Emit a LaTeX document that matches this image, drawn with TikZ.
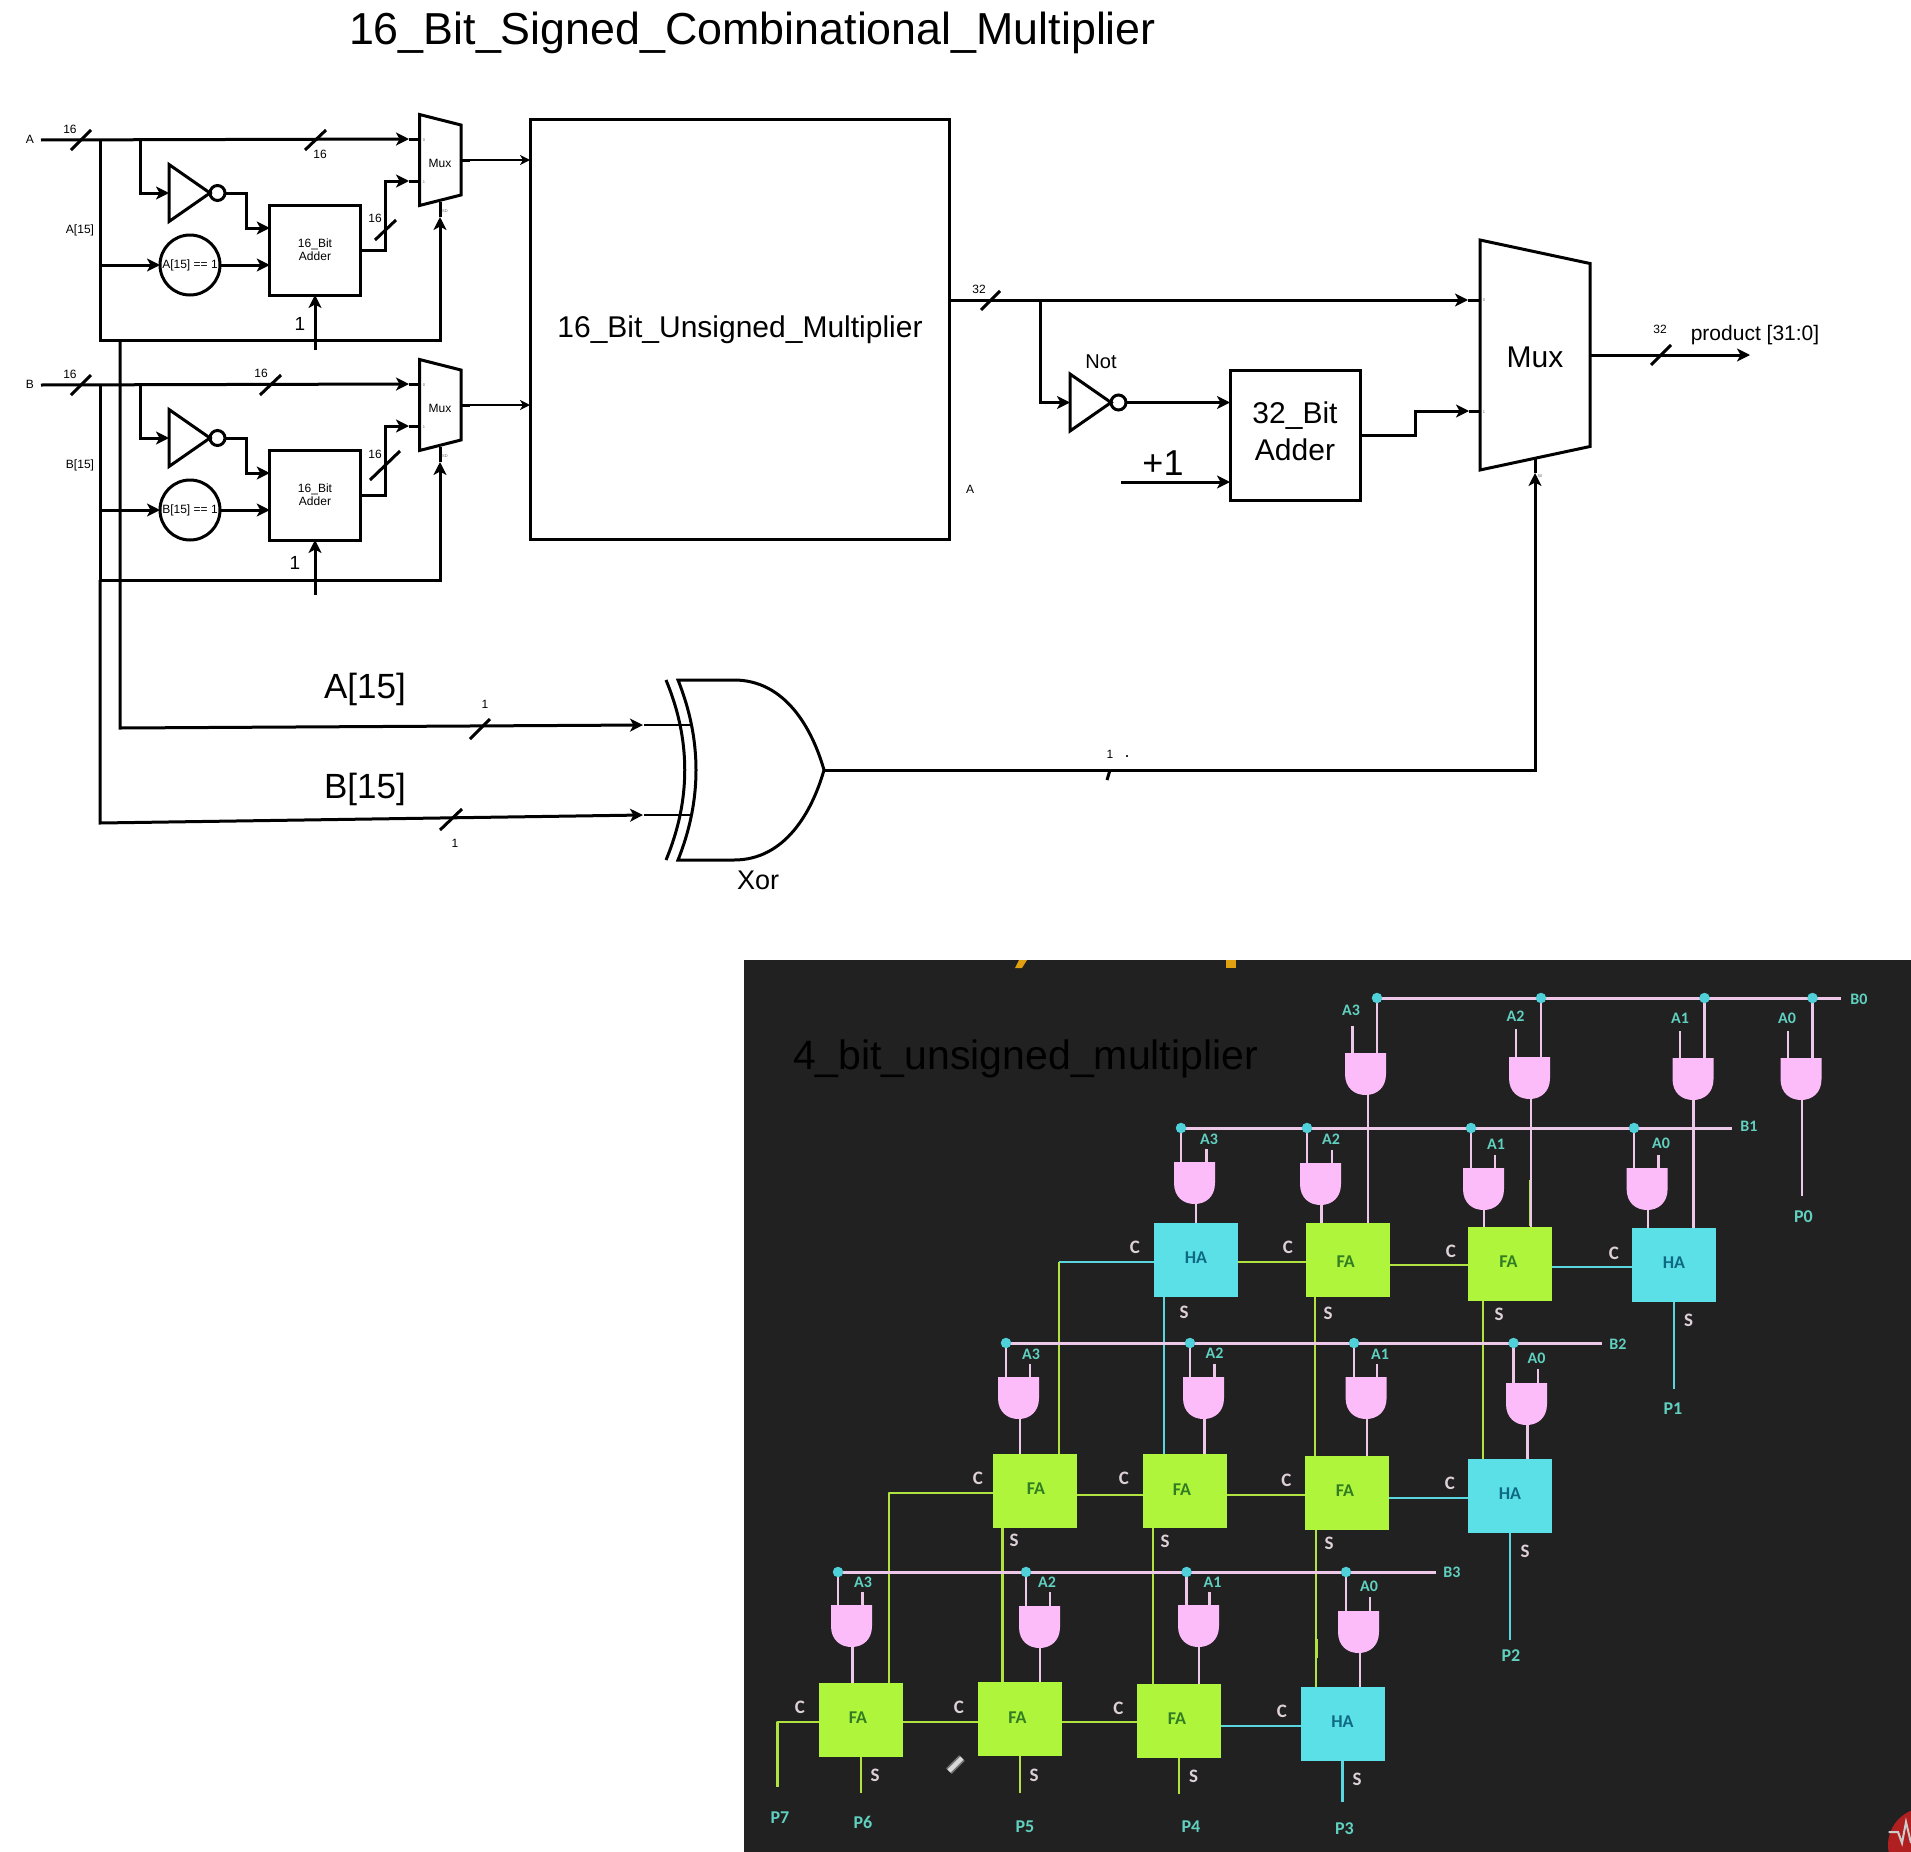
\documentclass[tikz,border=0pt]{standalone}
\usepackage{fontspec}
\setmainfont{Liberation Sans}
\newfontfamily\vidfont{Carlito}
\usetikzlibrary{arrows.meta,calc}
\definecolor{bgdark}{RGB}{33,33,33}
\definecolor{gatepink}{RGB}{252,188,250}
\definecolor{linepink}{RGB}{238,200,232}
\definecolor{fagreen}{RGB}{174,245,60}
\definecolor{hacyan}{RGB}{92,224,232}
\definecolor{fatext}{RGB}{50,125,35}
\definecolor{hatext}{RGB}{14,105,130}
\definecolor{wiregreen}{RGB}{176,226,64}
\definecolor{wirecyan}{RGB}{90,214,224}
\definecolor{dotcyan}{RGB}{80,208,216}
\definecolor{labteal}{RGB}{96,208,192}
\definecolor{labpale}{RGB}{222,208,216}
\definecolor{logored}{RGB}{176,32,32}
\definecolor{markorange}{RGB}{224,160,16}
\tikzset{
    wire/.style={line width=3pt},
    thinwire/.style={line width=2pt},
    arr/.style={-{Stealth[length=13pt,width=13pt,inset=3.5pt]}},
    smallarr/.style={-{Stealth[length=10pt,width=10pt,inset=3pt]}},
    txt/.style={inner sep=0pt,outer sep=0pt,font=\fontsize{#1}{#1}\selectfont},
    tiny port/.style={inner sep=0pt,font=\fontsize{4}{4}\selectfont,text=black!60},
    ghost/.style={inner sep=0pt,outer sep=0pt,minimum size=0pt},
    boxed/.style={draw,line width=3pt,inner sep=0pt,outer sep=0pt,align=center},
    fabox/.style={fill=fagreen,inner sep=0pt,outer sep=0pt,minimum width=84pt,minimum height=74pt},
    habox/.style={fill=hacyan,inner sep=0pt,outer sep=0pt,minimum width=84pt,minimum height=74pt},
    celllab/.style={inner sep=0pt,font=\vidfont\bfseries\fontsize{18}{18}\selectfont},
    gwire/.style={line width=2.6pt,wiregreen},
    cwire/.style={line width=2.6pt,wirecyan},
    pwire/.style={line width=2.6pt,linepink},
    vlab/.style={inner sep=0pt,text=labteal,font=\vidfont\bfseries\fontsize{16}{16}\selectfont},
    plab/.style={inner sep=0pt,text=labteal,font=\vidfont\bfseries\fontsize{18}{18}\selectfont},
    clab/.style={inner sep=0pt,text=labpale,font=\vidfont\bfseries\fontsize{19}{19}\selectfont}
}
\begin{document}
\begin{tikzpicture}[x=1pt,y=-1pt]
    \useasboundingbox (0,0) rectangle (1911,1852);

    % Titles
    \node[txt=44.8] (title) at (752.5,32.5) {16\_Bit\_Signed\_Combinational\_Multiplier};

    % Input rows
    \foreach \n/\dy/\sel in {A/0/340,B/245/580} {
        \node[txt=12] (name\n) at (30,139+\dy) {\n};
        \coordinate (in\n) at (41,140+\dy);
        \coordinate (j\n) at (100,140+\dy);
        \coordinate (k\n) at (140,140+\dy);
        \coordinate (corner\n) at (100,\sel);
        \coordinate (tap\n) at (100,265+\dy);
        \coordinate (one\n) at (315,350+\dy);
        \node[boxed,minimum width=90.5pt,minimum height=90pt,font=\fontsize{12}{14}\selectfont] (add\n) at (315,250+\dy) {16\_Bit\\[-1pt]Adder};
        \node[boxed,circle,minimum size=60pt,font=\fontsize{12}{14}\selectfont] (eq\n) at (190,265+\dy) {\n[15] == 1};
        \coordinate (tipa\n) at (409,139+\dy);
        \coordinate (tipb\n) at (409,181+\dy);
        \coordinate (tips\n) at (440,217+\dy);
        \coordinate (porta\n) at (419.5,139+\dy);
        \coordinate (portb\n) at (419.5,181+\dy);
        \coordinate (ports\n) at (440,202+\dy);
        \coordinate (outs\n) at (470,160+\dy);
    }

    % Muxes and inverters
    \foreach \n/\x/\y/\w/\h/\d in {muxA/440.25/160/41.5/91/10.5,muxB/440.25/405/41.5/91/10.5,muxP/1535/355/110/230/23.5} {
        \node[ghost,minimum width=\w pt,minimum height=\h pt] (\n) at (\x,\y) {};
        \draw[wire,line join=miter] (\n.north west) -- ($(\n.north east)+(0,\d)$) -- ($(\n.south east)+(0,-\d)$) -- (\n.south west) -- cycle;
    }
    \foreach \n/\x/\y/\f in {ma/440/163.5/12,mb/440/408.5/12,mp/1535/357/30} {
        \node[txt=\f] (\n) at (\x,\y) {Mux};
    }
    \foreach \n/\x/\y in {A/189.5/193,B/189.5/438,P/1090.5/402.5} {
        \node[ghost,minimum width=41pt,minimum height=57pt] (inv\n) at (\x,\y) {};
        \draw[wire] (inv\n.north west) -- (inv\n.east) -- (inv\n.south west) -- cycle;
        \node[circle,draw,wire,minimum size=15pt,inner sep=0pt,outer sep=0pt] (not\n) at (\x+28,\y) {};
    }

    % Input wiring
    \foreach \n in {A,B} {
        \draw[wire,arr] (in\n) -- (tipa\n);
        \draw[wire] (tipa\n) -- (porta\n);
        \draw[wire,arr] (j\n) -- (corner\n) -| (tips\n);
        \draw[wire] (tips\n) -- (ports\n);
        \draw[wire,arr] (k\n) |- (inv\n.west);
        \draw[wire,arr] (not\n.east) -- ++(21,0) |- ($(add\n.west)+(0,-22)$);
        \draw[wire,arr] (tap\n) -- (eq\n.west);
        \draw[wire,arr] (eq\n.east) -- (eq\n.east -| add\n.west);
        \draw[wire,arr] (add\n.east) -- ++(25,0) |- (tipb\n);
        \draw[wire] (tipb\n) -- (portb\n);
        \draw[wire,arr] (one\n) -- (add\n.south);
        \draw[wire] (mux\n.east |- outs\n) -- (outs\n);
    }

    % Multiplier block
    \node[boxed,minimum width=419.5pt,minimum height=420pt] (umul) at (739.75,329.75) {};
    \node[txt=30] (umullab) at (740,329.5) {16\_Bit\_Unsigned\_Multiplier};
    \foreach \n in {A,B} {
        \draw[thinwire,smallarr] (outs\n) -- (outs\n -| umul.west);
    }

    % Sign lines to the xor
    \coordinate (tapS) at (120,340);
    \coordinate (bendA) at (120,728);
    \coordinate (bendB) at (100,823);
    \coordinate (tipxA) at (643,725);
    \coordinate (tipxB) at (643,815);
    \coordinate (pinxA) at (691,725);
    \coordinate (pinxB) at (691,815);
    \node[ghost,minimum width=146pt,minimum height=180pt] (xorG) at (751,770) {};
    \draw[wire] (xorG.north west) -- (734,680) .. controls (785,680) and (812,728) .. (xorG.east) .. controls (812,812) and (785,860) .. (734,860) -- (xorG.south west) .. controls (702,800) and (702,740) .. (xorG.north west) -- cycle;
    \draw[wire] (666,680) .. controls (691,740) and (691,800) .. (666,860);
    \draw[wire,arr] (tapS) -- (bendA) -- (tipxA);
    \draw[wire,arr] (cornerB) -- (bendB) -- (tipxB);
    \draw[thinwire] (tipxA -| 644,0) -- (pinxA);
    \draw[thinwire] (tipxB -| 644,0) -- (pinxB);

    % Output stage
    \coordinate (jP) at (1040,300);
    \coordinate (tipP0) at (1468,300);
    \coordinate (portP0) at (1480,300);
    \coordinate (tipP1) at (1469,411);
    \coordinate (portP1) at (1480,411);
    \coordinate (tipPs) at (1535,473);
    \coordinate (portPs) at (1535,458);
    \coordinate (plusone) at (1121,482);
    \coordinate (prod) at (1750,355);
    \node[boxed,minimum width=130pt,minimum height=130pt] (addP) at (1295,435) {};
    \node[align=center,inner sep=0pt,font=\fontsize{30}{37}\selectfont] (addPlab) at (1295,431.5) {32\_Bit\\Adder};
    \draw[wire,arr] (umul.east |- tipP0) -- (tipP0);
    \draw[wire] (tipP0) -- (portP0);
    \draw[wire,arr] (jP) |- (invP.west);
    \draw[wire,arr] (notP.east) -- (notP.east -| addP.west);
    \draw[wire,arr] (plusone) -- (plusone -| addP.west);
    \draw[wire,arr] (addP.east) -- ++(55,0) |- (tipP1);
    \draw[wire] (tipP1) -- (portP1);
    \draw[wire,arr] (muxP.east) -- (prod);
    \draw[wire,arr] (xorG.east) -| (tipPs);
    \draw[wire] (tipPs) -- (portPs);

    % Bus ticks
    \foreach \a/\b/\c/\d in {71/150/91/130,305/150/326/130,375/240/396/220,71/395/91/375,260/395/281/375,370/480/400/451,981/310/1000/291,1651/365/1671/345,470/739/490/719,440/830/462/809,1107/780/1110/770} {
        \draw[wire] (\a,\b) -- (\c,\d);
    }

    % Labels of the upper part
    \foreach \n/\x/\y/\t in {wa/70/129/16,wb/320/154/16,wc/375/218/16,wd/70/374/16,we/261/373/16,wf/375/454/16,sa/80/230/A[15],sb/80/465/B[15],wg/979/289/32,wh/1660/329/32,wi/485/704/1,wj/455/843/1,wk/1110/754/1,wm/970/489/A} {
        \node[txt=12] (\n) at (\x,\y) {\t};
    }
    \node[txt=18] (wl) at (1127,757) {.};
    \foreach \n/\x/\y/\f/\t in {oa/300/324/19/1,ob/295/563/19/1,na/1101/362/20/Not,pl/1163/463/36/+1,pr/1755/335/21/product [31:0],xa/365/689.5/35/A[15],xb/365/789.5/35/B[15],xo/758/880/27/Xor} {
        \node[inner sep=0pt,font=\fontsize{\f}{\f}\selectfont] (\n) at (\x,\y) {\t};
    }
    \foreach \n/\x/\y/\t in {pa/424/140/0,pb/424/182/1,pc/445/211/SD,pd/424/385/0,pe/424/427/1,pf/445/456/SD,pg/1484/300/0,ph/1484/412/1,pi/1540/476/S0} {
        \node[tiny port] (\n) at (\x,\y) {\t};
    }

    % Video still
    \fill[bgdark] (744,960) rectangle (1911,1852);
    \fill[markorange] (1019,960) -- (1027,960) -- (1022,968) -- (1015,968) -- cycle;
    \fill[markorange] (1226,960) rectangle (1236,968);
    \node[txt=41] (subtitle) at (1025.5,1058.5) {4\_bit\_unsigned\_multiplier};

    % Adder cells
    \foreach \n/\x/\y/\s in {ha10/1196/1260/habox,fa11/1347.75/1260/fabox,fa12/1510/1264/fabox,ha13/1674/1265/habox,fa20/1035/1491/fabox,fa21/1184.5/1491/fabox,fa22/1347/1493/fabox,ha23/1510/1496/habox,fa30/860.5/1720/fabox,fa31/1020/1719/fabox,fa32/1179/1721/fabox,ha33/1343/1724/habox} {
        \node[\s] (\n) at (\x,\y) {};
    }
    \foreach \n/\x/\y in {tfa11/1345.6/1262,tfa12/1508.5/1262,tfa20/1036/1489,tfa21/1182/1490,tfa22/1345/1491,tfa30/858/1718,tfa31/1017.5/1718,tfa32/1177/1719} {
        \node[celllab,text=fatext] (\n) at (\x,\y) {FA};
    }
    \foreach \n/\x/\y in {tha10/1196/1258,tha13/1674/1263,tha23/1510/1494,tha33/1342.5/1722} {
        \node[celllab,text=hatext] (\n) at (\x,\y) {HA};
    }
    \foreach \n/\x/\y in {endP0/1802/1196,endP1/1674/1389,endP2/1510/1640,endP3/1342.5/1802,endP4/1179/1794,endP5/1020/1793,endP6/861/1793,endP7/777.5/1787} {
        \node[ghost] (\n) at (\x,\y) {};
    }

    % Carry wires
    \foreach \a/\b/\y/\s in {fa11/ha10/1262/gwire,ha13/fa12/1267/cwire,fa12/fa11/1265/gwire,fa21/fa20/1495/gwire,fa22/fa21/1495/gwire,ha23/fa22/1498/cwire,fa31/fa30/1722/gwire,fa32/fa31/1722/gwire,ha33/fa32/1726/cwire} {
        \draw[\s] (\a.west |- 0,\y) -- (\b.east |- 0,\y);
    }
    \coordinate (cr10) at (1059,1262);
    \coordinate (cr20) at (889,1493);
    \coordinate (cr30) at (777.5,1722);
    \draw[cwire] (ha10.west |- cr10) -- (cr10);
    \draw[gwire,line join=round] (cr10) -- (cr10 |- fa20.north);
    \draw[gwire,line join=round] (fa20.west |- cr20) -- (cr20) -- (cr20 |- fa30.north);
    \draw[gwire,line join=round] (fa30.west |- cr30) -- (cr30) -- (cr30 |- endP7.north);

    % Sum wires
    \foreach \n/\x/\e/\s in {ha10/1164/fa21/cwire,fa11/1315/fa22/gwire,fa12/1483/ha23/gwire,ha13/1674/endP1/cwire,fa20/1002.5/fa31/gwire,fa21/1153/fa32/gwire,fa22/1316/ha33/gwire,ha23/1510/endP2/cwire,fa30/861/endP6/gwire,fa31/1020/endP5/gwire,fa32/1179/endP4/gwire,ha33/1342.5/endP3/cwire} {
        \draw[\s] (\n.south -| \x,0) -- (\e.north -| \x,0);
    }
    \draw[line width=2.6pt,wiregreen] (1530.5,1180) -- (1530.5,1226);
    \draw[line width=3pt,wiregreen] (1316.5,1639) -- (1316.5,1658);

    % AND gates
    \foreach \n/\x/\y/\p/\q/\d/\o/\e in {
        g00/1345/1053/1352.6/1026/1377/1368/fa11,g01/1509/1057/1516/1029/1541/1531/fa12,g02/1672.5/1058/1680/1031/1704.5/1693.6/ha13,g03/1780.5/1058/1788/1031/1812.5/1802/endP0,
        g10/1174/1162/1206.5/1149/1181/1196/ha10,g11/1300/1163/1332/1150/1307/1321.4/fa11,g12/1463/1168/1495/1155/1471/1484/fa12,g13/1626.6/1168/1658.5/1155/1634/1648/ha13,
        g20/998/1377/1030/1364/1006/1020/fa20,g21/1183/1377/1214.5/1364/1190/1204.6/fa21,g22/1345.6/1377/1377/1364/1354/1367/fa22,g23/1506/1383/1538/1369/1513.5/1527.6/ha23,
        g30/831/1605/862.5/1592/838/852.5/fa30,g31/1019/1606/1050/1592/1026/1040/fa31,g32/1178/1605/1209.6/1592/1186.6/1199/fa32,g33/1338/1611/1370/1597/1346/1360/ha33} {
        \node[ghost,minimum width=41pt,minimum height=42pt] (\n) at (\x+20.5,\y+21) {};
        \coordinate (\n in) at (\p,\y);
        \coordinate (\n pin) at (\p,\q);
        \coordinate (\n dot) at (\d,\y);
        \coordinate (\n out) at (\o,\y+42);
        \draw[pwire] (\n out) -- (\n out |- \e.north);
        \draw[pwire] (\n pin) -- (\n in);
        \fill[gatepink] (\n.north west) -- (\n.north east) -- (\n.east) .. controls +(0,14) and +(11,0) .. (\n.south) .. controls +(-11,0) and +(0,14) .. (\n.west) -- cycle;
    }

    % B lines with their taps
    \foreach \n/\l/\r/\y/\gates in {b0/1377/1841/998/{g00,g01,g02,g03},b1/1181/1732/1128/{g10,g11,g12,g13},b2/1006/1602/1343/{g20,g21,g22,g23},b3/838/1436/1572/{g30,g31,g32,g33}} {
        \coordinate (\n l) at (\l,\y);
        \coordinate (\n r) at (\r,\y);
        \draw[line width=3pt,linepink] (\n l) -- (\n r);
        \foreach \g in \gates {
            \draw[pwire] (\g dot |- \n l) -- (\g dot);
            \node[circle,fill=dotcyan,minimum size=10.5pt,inner sep=0pt] (\g tap) at (\g dot |- \n l) {};
        }
    }

    % Labels of the video still
    \foreach \n/\x/\y/\t in {
        a00/1351/1010/A3,a01/1515.5/1016/A2,a02/1680/1018/A1,a03/1787/1018/A0,
        a10/1209/1139/A3,a11/1331/1139/A2,a12/1496/1144/A1,a13/1661/1143/A0,
        a20/1031/1354/A3,a21/1214.5/1353/A2,a22/1380/1354/A1,a23/1536.5/1358/A0,
        a30/863/1582/A3,a31/1047/1582/A2,a32/1212.6/1582/A1,a33/1369/1586/A0,
        lb0/1859/999/B0,lb1/1749/1126/B1,lb2/1618/1344/B2,lb3/1452/1572/B3} {
        \node[vlab] (\n) at (\x,\y) {\t};
    }
    \foreach \n/\x/\y/\t in {p0/1803.5/1217/P0,p1/1673/1409/P1,p2/1511/1656/P2,p3/1344.4/1829/P3,p4/1191/1827/P4,p5/1025/1827/P5,p6/863/1822/P6,p7/780/1818/P7} {
        \node[plab] (\n) at (\x,\y) {\t};
    }
    \foreach \n/\x/\y/\t in {
        c10/1135/1247/C,c11/1288/1247/C,c12/1451/1251/C,c13/1614/1253/C,
        c20/978/1478/C,c21/1124/1478/C,c22/1286.5/1480/C,c23/1450/1483/C,
        c30/800/1707/C,c31/959/1707/C,c32/1118.5/1708/C,c33/1282/1711/C,
        s10/1184/1312/S,s11/1328/1313/S,s12/1499/1314/S,s13/1688.5/1320/S,
        s20/1014/1540/S,s21/1165/1541/S,s22/1329/1543/S,s23/1525/1551/S,
        s30/875/1775/S,s31/1034/1775/S,s32/1193.5/1776/S,s33/1357/1779/S} {
        \node[clab] (\n) at (\x,\y) {\t};
    }

    % Pencil cursor and logo
    \draw[line width=8pt,black!55] (949,1771) -- (962,1758);
    \draw[line width=4.5pt,white!85!black] (949,1771) -- (962,1758);
    \begin{scope}
        \clip (1880,1800) rectangle (1911,1852);
        \fill[logored] (1925,1845) circle[radius=37pt];
        \draw[line width=2pt,white!80!black] (1888.5,1832) -- (1898,1832) -- (1902,1843) -- (1906,1822) -- (1911,1843);
    \end{scope}
\end{tikzpicture}
\end{document}
